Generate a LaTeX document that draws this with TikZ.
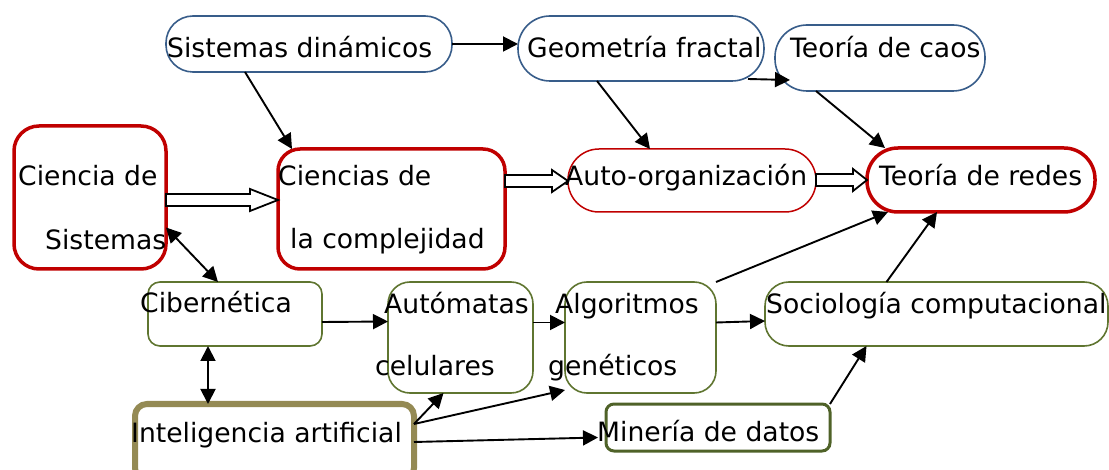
\documentclass[tikz,border=0pt]{standalone}
\usepackage{fontspec}
\setmainfont{DejaVu Sans}
\usetikzlibrary{arrows.meta,calc}
\definecolor{cmblue}{RGB}{56,93,138}
\definecolor{cmred}{RGB}{192,0,0}
\definecolor{cmgreen}{RGB}{95,117,48}
\definecolor{cmdkgreen}{RGB}{79,98,40}
\definecolor{cmkhaki}{RGB}{148,138,84}

\tikzset{
  box/.style={draw, fill=white, inner sep=0pt, outer sep=0pt},
  lbl/.style={anchor=base west, inner sep=0pt, font=\fontsize{26.6}{30}\selectfont},
  arr/.style={-{Triangle[length=15pt,width=15pt]}, line width=1.9pt},
  dbl/.style={{Triangle[length=15pt,width=15pt]}-{Triangle[length=15pt,width=15pt]}, line width=1.9pt},
  hollow/.style={draw, fill=white, line width=1.8pt, line join=miter}
}

% hollow block arrow: from node, to node, height, head length
\newcommand{\hollowarrow}[4]{%
  \draw[hollow] ($(#1.east |- 0,#3)+(0,-6)$) -- ($(#2.west |- 0,#3)+(-#4,-6)$)
    -- ++(0,-5) -- (#2.west |- 0,#3) -- ($(#2.west |- 0,#3)+(-#4,11)$)
    -- ++(0,-5) -- ($(#1.east |- 0,#3)+(0,6)$) -- cycle;}

\begin{document}
\begin{tikzpicture}[x=1pt,y=-1pt]
\useasboundingbox (0,0) rectangle (1109,470);

% top row
\node[box, draw=cmblue, line width=1.6pt, rounded corners=27pt, minimum width=286pt, minimum height=56pt] (sd) at (309,44) {};
\node[box, draw=cmblue, line width=1.6pt, rounded corners=32pt, minimum width=246pt, minimum height=65pt] (gf) at (641,48.5) {};
\node[box, draw=cmblue, line width=1.6pt, rounded corners=32pt, minimum width=210pt, minimum height=66pt] (tc) at (880,58) {};

% middle row
\node[box, draw=cmred, line width=3.5pt, rounded corners=25pt, minimum width=152pt, minimum height=143pt] (cs) at (90,197.5) {};
\node[box, draw=cmred, line width=3.5pt, rounded corners=22pt, minimum width=227pt, minimum height=120pt] (cc) at (391.5,209) {};
\node[box, draw=cmred, line width=1.5pt, rounded corners=31pt, minimum width=248pt, minimum height=63pt] (ao) at (692,180.5) {};
\node[box, draw=cmred, line width=3.5pt, rounded corners=31pt, minimum width=228pt, minimum height=64pt] (tr) at (981,180) {};

% lower rows
\node[box, draw=cmgreen, line width=1.6pt, rounded corners=12pt, minimum width=174pt, minimum height=64pt] (cib) at (235,314) {};
\node[box, draw=cmgreen, line width=1.6pt, rounded corners=22pt, minimum width=145pt, minimum height=111pt] (aut) at (460.5,337.5) {};
\node[box, draw=cmgreen, line width=1.6pt, rounded corners=22pt, minimum width=151pt, minimum height=111pt] (alg) at (640.5,337.5) {};
\node[box, draw=cmgreen, line width=1.6pt, rounded corners=24pt, minimum width=343pt, minimum height=64pt] (soc) at (936.5,314) {};
\node[box, draw=cmkhaki, line width=6pt, rounded corners=12pt, minimum width=279pt, minimum height=76pt] (ia) at (274.5,442) {};
\node[box, draw=cmdkgreen, line width=3pt, rounded corners=8pt, minimum width=224pt, minimum height=47pt] (md) at (718,427.5) {};

% texts
\node[lbl] (tsd) at (167,58) {Sistemas dinámicos};
\node[lbl] (tgf) at (527,58) {Geometría fractal};
\node[lbl] (ttc) at (790,58) {Teoría de caos};
\node[lbl] (tcs1) at (18,186) {Ciencia de};
\node[lbl] (tcs2) at (45,250) {Sistemas};
\node[lbl] (tcc1) at (278,186) {Ciencias de};
\node[lbl] (tcc2) at (290,249) {la complejidad};
\node[lbl] (tao) at (565,186) {Auto-organización};
\node[lbl] (ttr) at (879,186) {Teoría de redes};
\node[lbl] (tcib) at (140,313) {Cibernética};
\node[lbl] (taut1) at (384,314) {Autómatas};
\node[lbl] (taut2) at (375,376) {celulares};
\node[lbl] (talg1) at (555,314) {Algoritmos};
\node[lbl] (talg2) at (548,376) {genéticos};
\node[lbl] (tsoc) at (766,314) {Sociología computacional};
\node[lbl] (tia) at (131,442) {Inteligencia artificial};
\node[lbl] (tmd) at (597,441) {Minería de datos};

% arrows
\draw[arr] (sd.east) -- (sd.east -| gf.west);
\draw[arr] ([xshift=-64pt]sd.south) -- ([xshift=14pt]cc.north west);
\draw[arr] ([xshift=-44pt]gf.south) -- ([xshift=-42pt]ao.north);
\draw[arr] ([xshift=-16pt,yshift=2pt]gf.south east) -- ([xshift=15pt,yshift=11pt]tc.south west);
\draw[arr] ([xshift=-64pt]tc.south) -- ([xshift=18pt]tr.north west);
\hollowarrow{cs}{cc}{200}{28}
\hollowarrow{cc}{ao}{181}{16}
\hollowarrow{ao}{tr}{180}{14}
\draw[dbl] ([yshift=-30pt]cs.east) -- ([xshift=-17pt]cib.north);
\draw[arr] ([yshift=-8pt]cib.east) -- ([yshift=16pt]aut.west);
\draw[arr] ([yshift=15pt]aut.east) -- ([yshift=15pt]alg.west);
\draw[arr] ([yshift=15pt]alg.east) -- ([yshift=-7pt]soc.west);
\draw[arr] (alg.north east) -- ([xshift=21pt]tr.south west);
\draw[arr] ([xshift=-50pt]soc.north) -- ([xshift=-44pt]tr.south);
\draw[dbl] ([xshift=-27pt]cib.south) -- ([xshift=-66.5pt]ia.north);
\draw[arr] ([yshift=18pt]ia.east) -- ([xshift=-17pt]aut.south);
\draw[arr] ([yshift=18pt]ia.east) -- ([yshift=3pt]alg.south west);
\draw[arr] (ia.east) -- ([xshift=-8pt,yshift=-10pt]md.west);
\draw[arr] (md.north east) -- ([xshift=-70pt]soc.south);
\end{tikzpicture}
\end{document}
